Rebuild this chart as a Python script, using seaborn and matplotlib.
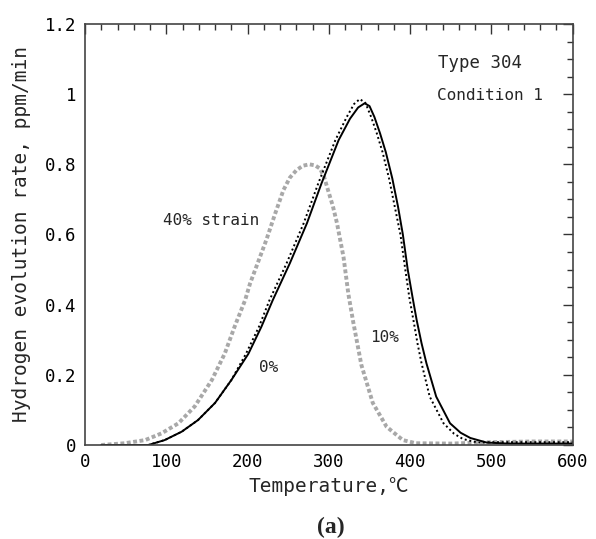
import matplotlib
matplotlib.use("Agg")
import matplotlib.pyplot as plt
import seaborn as sns
import pandas as pd
from matplotlib.ticker import MultipleLocator

# ---- data ----
t_0 = [20, 40, 60, 78, 98, 119, 139, 160, 180, 201, 217, 231, 252, 273, 291, 312, 326,
       336, 344, 350, 356, 363, 370, 378, 385, 391, 397, 403, 408, 414, 420, 432, 449,
       462, 474, 494, 520, 560, 600]
y_0 = [0.0, 0.0, 0.0, 0.0, 0.014, 0.038, 0.071, 0.12, 0.185, 0.26, 0.337, 0.413, 0.518,
       0.632, 0.746, 0.869, 0.93, 0.962, 0.974, 0.966, 0.935, 0.888, 0.835, 0.76, 0.68,
       0.60, 0.50, 0.42, 0.356, 0.29, 0.233, 0.138, 0.062, 0.035, 0.02, 0.007, 0.004,
       0.004, 0.004]

t_10 = [20, 40, 60, 78, 98, 119, 139, 160, 180, 198, 214, 227, 248, 269, 287, 308, 322,
        331, 338, 345, 352, 359, 366, 374, 381, 388, 394, 399, 404, 409, 414, 424, 441,
        454, 465, 483, 500, 540, 600]
y_10 = [0.0, 0.0, 0.0, 0.0, 0.014, 0.038, 0.071, 0.12, 0.185, 0.26, 0.337, 0.413, 0.518,
        0.632, 0.746, 0.869, 0.935, 0.972, 0.986, 0.975, 0.935, 0.888, 0.835, 0.76, 0.68,
        0.60, 0.50, 0.42, 0.356, 0.29, 0.233, 0.138, 0.062, 0.032, 0.017, 0.007, 0.008,
        0.008, 0.008]

t_40 = [20, 49, 74, 94, 115, 135, 156, 172, 184, 197, 203, 213, 223, 234, 244, 252, 260,
        268, 276, 283, 289, 294, 299, 305, 310, 318, 324, 330, 340, 354, 371, 391, 407,
        450, 500, 550, 600]
y_40 = [0.0, 0.005, 0.014, 0.033, 0.062, 0.11, 0.185, 0.261, 0.337, 0.413, 0.46, 0.522,
        0.584, 0.66, 0.726, 0.762, 0.783, 0.796, 0.80, 0.797, 0.788, 0.765, 0.726, 0.68,
        0.632, 0.536, 0.43, 0.35, 0.228, 0.12, 0.052, 0.014, 0.005, 0.004, 0.008, 0.01, 0.01]

x_ticks = [0, 100, 200, 300, 400, 500, 600]
y_ticks = [0, 0.2, 0.4, 0.6, 0.8, 1, 1.2]
y_tick_labels = ["0", "0.2", "0.4", "0.6", "0.8", "1", "1.2"]

df0 = pd.DataFrame({"T": t_0, "rate": y_0})
df10 = pd.DataFrame({"T": t_10, "rate": y_10})
df40 = pd.DataFrame({"T": t_40, "rate": y_40})

sns.set_style("white")
mono = ["DejaVu Sans Mono", "Noto Sans CJK JP"]
plt.rcParams["font.family"] = mono

fig = plt.figure(figsize=(5.96, 5.39), dpi=100)
ax = fig.add_axes([0.1426, 0.1744, 0.8184, 0.7811])

sns.lineplot(data=df40, x="T", y="rate", ax=ax, color="#a8a8a8", lw=2.8,
             linestyle=(0, (1, 0.65)), estimator=None, sort=False)
sns.lineplot(data=df10, x="T", y="rate", ax=ax, color="black", lw=1.4,
             linestyle=(0, (1, 1.4)), estimator=None, sort=False)
sns.lineplot(data=df0, x="T", y="rate", ax=ax, color="black", lw=1.4,
             linestyle="-", estimator=None, sort=False)

ax.set_xlim(0, 600)
ax.set_ylim(0, 1.2)
ax.set_xticks(x_ticks)
ax.set_xticklabels([str(v) for v in x_ticks])
ax.set_yticks(y_ticks)
ax.set_yticklabels(y_tick_labels)
ax.xaxis.set_minor_locator(MultipleLocator(20))
ax.yaxis.set_minor_locator(MultipleLocator(0.05))
ax.tick_params(which="both", direction="in", top=True, right=True, colors="#333333",
               labelcolor="black", labelsize=12.5)
ax.tick_params(which="major", length=7, width=1.0, pad=6)
ax.tick_params(which="minor", length=4, width=1.0)
for s in ax.spines.values():
    s.set_color("#444444")
    s.set_linewidth(1.2)

ax.set_xlabel("Temperature,℃", fontsize=14, labelpad=4)
ax.set_ylabel("Hydrogen evolution rate, ppm/min", fontsize=14, labelpad=10)

ax.text(486, 1.09, "Type 304", fontsize=12.5, ha="center", va="center")
ax.text(498, 0.997, "Condition 1", fontsize=11.5, ha="center", va="center")
ax.text(155, 0.64, "40% strain", fontsize=11.5, ha="center", va="center")
ax.text(226, 0.22, "0%", fontsize=11.5, ha="center", va="center")
ax.text(369, 0.305, "10%", fontsize=11.5, ha="center", va="center")

fig.text(0.555, 0.022, "(a)", fontsize=17, fontweight="bold",
         family="Liberation Serif", ha="center", va="center")

fig.savefig("out.png", dpi=100)
